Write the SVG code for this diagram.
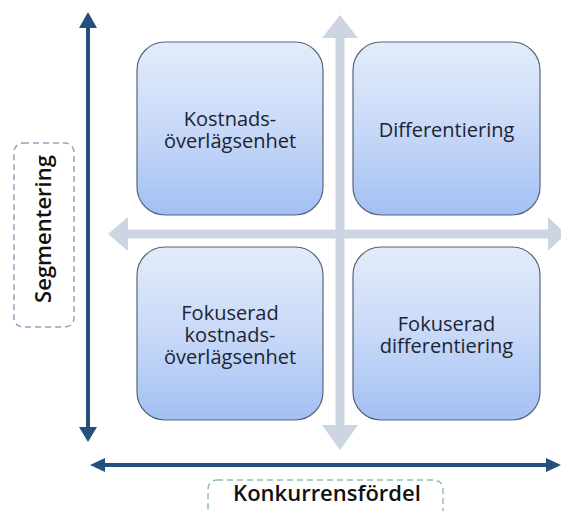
<svg xmlns="http://www.w3.org/2000/svg" width="561" height="511" viewBox="0 0 561 511">
<defs>
<linearGradient id="boxGrad" x1="0" y1="0" x2="0" y2="1">
<stop offset="0" stop-color="#e3ecfa"/>
<stop offset="0.5" stop-color="#c8d9f8"/>
<stop offset="1" stop-color="#a3c0f3"/>
</linearGradient>
<style>
.box{fill:url(#boxGrad);stroke:#56657a;stroke-width:1.2}
.lbl{font-family:"Open Sans","Liberation Sans",sans-serif;font-size:20px;fill:#1c2433;text-anchor:middle}
.axlbl{font-family:"Open Sans","Liberation Sans",sans-serif;font-size:22px;font-weight:600;fill:#111;text-anchor:middle}
.gray{fill:#cdd5e3}
.dark{fill:#254f7d}
.dash1{fill:#fff;stroke:#8fa3bb;stroke-width:1.5;stroke-dasharray:6 4}
.dash2{fill:#fff;stroke:#94bcbc;stroke-width:1.5;stroke-dasharray:6 4}
</style>
</defs>
<rect width="561" height="511" fill="#fff"/>
<g id="connectors">
<polygon class="gray" points="335.5,38 322,38 340,15 358,38 344.5,38 344.5,425 358,425 340,450 322,425 335.5,425"/>
<polygon class="gray" points="128,229.5 128,217 108,234 128,251 128,238.5 548,238.5 548,251 566,234 548,217 548,229.5"/>
<polygon class="dark" points="86,28 79,28 88,12 97,28 90,28 90,427 97,427 88,442 79,427 86,427"/>
<polygon class="dark" points="105,463 105,458 90,465 105,472 105,467 546,467 546,472 561,465 546,458 546,463"/>
</g>
<g id="node-tl">
<rect class="box" x="137" y="42" width="186" height="173" rx="28"/>
<text class="lbl" x="230" y="126">Kostnads-</text>
<text class="lbl" x="230" y="148">överlägsenhet</text>
</g>
<g id="node-tr">
<rect class="box" x="353" y="42" width="187" height="173" rx="28"/>
<text class="lbl" x="446.5" y="137">Differentiering</text>
</g>
<g id="node-bl">
<rect class="box" x="137" y="247" width="186" height="173" rx="28"/>
<text class="lbl" x="230" y="320">Fokuserad</text>
<text class="lbl" x="230" y="342">kostnads-</text>
<text class="lbl" x="230" y="364">överlägsenhet</text>
</g>
<g id="node-br">
<rect class="box" x="353" y="247" width="187" height="173" rx="28"/>
<text class="lbl" x="446.5" y="331">Fokuserad</text>
<text class="lbl" x="446.5" y="353">differentiering</text>
</g>
<g id="label-y">
<rect class="dash1" x="14" y="143" width="60" height="184" rx="9"/>
<text class="axlbl" transform="translate(51,229) rotate(-90)">Segmentering</text>
</g>
<g id="label-x">
<rect class="dash2" x="208" y="480" width="235" height="45" rx="9"/>
<text class="axlbl" x="327" y="501">Konkurrensfördel</text>
</g>
</svg>
